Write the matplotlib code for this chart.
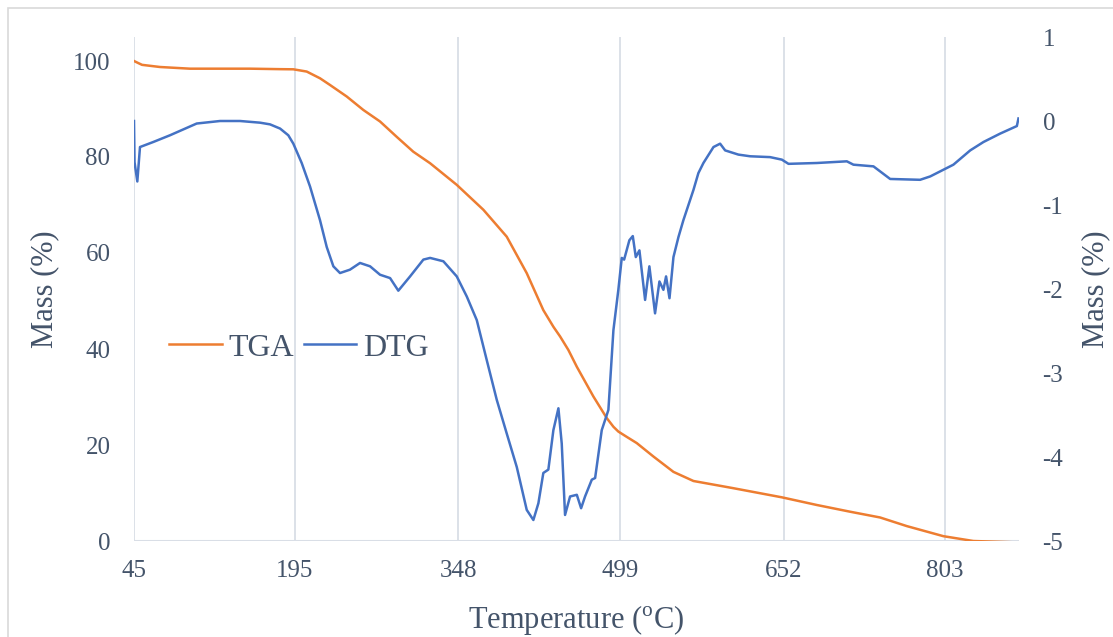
import matplotlib.pyplot as plt
from matplotlib.patches import Rectangle

plt.rcParams['font.family'] = ['Liberation Serif', 'DejaVu Serif']
plt.rcParams['mathtext.fontset'] = 'custom'
plt.rcParams['mathtext.rm'] = 'Liberation Serif'
plt.rcParams['axes.unicode_minus'] = False

# Curva TGA (masa, %)
temp_tga = [45.0, 48.7, 52.5, 69.3, 97.3, 153.4, 181.5, 193.9, 206.4, 218.8,
            228.2, 243.8, 259.3, 274.9, 290.5, 306.0, 321.7, 346.6, 371.5, 393.3,
            412.0, 427.5, 437.0, 443.2, 450.9, 458.8, 474.3, 486.8, 493.0, 497.6,
            505.4, 514.8, 530.4, 549.1, 567.8, 592.7, 605.1, 650.4, 683.1, 714.2,
            742.2, 767.2, 801.4, 829.4, 871.2]
masa_tga = [100.0, 99.6, 99.2, 98.75, 98.4, 98.4, 98.3, 98.27, 97.8, 96.4,
            95.0, 92.6, 89.8, 87.4, 84.2, 81.1, 78.7, 74.2, 69.0, 63.4,
            55.8, 48.1, 44.6, 42.6, 39.8, 36.3, 30.1, 25.6, 23.8, 22.8,
            21.7, 20.4, 17.6, 14.4, 12.5, 11.5, 11.0, 9.1, 7.5, 6.1,
            4.9, 3.1, 1.0, 0.0, -0.3]

# Curva DTG (derivada, %)
temp_dtg = [45.0, 45.5, 48.1, 50.6, 63.0, 78.6, 91.1, 103.6, 125.4, 144.1,
            162.8, 172.1, 181.5, 189.2, 193.9, 201.7, 209.5, 218.8, 225.1, 231.3,
            237.5, 246.8, 256.2, 265.6, 274.9, 284.3, 292.0, 303.0, 315.4, 321.7,
            334.1, 346.6, 356.0, 365.3, 374.7, 384.0, 393.3, 402.7, 412.0, 418.2,
            422.9, 427.5, 432.2, 436.9, 441.6, 444.7, 447.8, 452.5, 458.8, 462.8,
            466.5, 472.8, 475.9, 482.1, 488.3, 493.0, 497.6, 500.8, 503.0, 507.9,
            511.1, 513.9, 517.3, 522.6, 526.6, 531.9, 536.0, 539.7, 542.2, 545.4,
            549.1, 553.8, 558.4, 567.8, 572.4, 577.1, 586.5, 592.7, 597.4, 609.8,
            620.8, 639.4, 650.4, 656.6, 683.1, 711.1, 717.3, 736.0, 751.6, 779.6,
            789.0, 810.7, 826.4, 838.8, 854.4, 870.0, 871.5]
deriv_dtg = [0.0, -0.49, -0.72, -0.31, -0.25, -0.17, -0.10, -0.03, 0.0, 0.0,
             -0.02, -0.04, -0.09, -0.17, -0.27, -0.50, -0.78, -1.18, -1.50, -1.73,
             -1.81, -1.77, -1.69, -1.73, -1.83, -1.87, -2.02, -1.85, -1.65, -1.63,
             -1.67, -1.85, -2.09, -2.37, -2.85, -3.32, -3.72, -4.12, -4.63, -4.75,
             -4.55, -4.19, -4.15, -3.68, -3.42, -3.84, -4.69, -4.47, -4.45, -4.61,
             -4.47, -4.27, -4.25, -3.68, -3.44, -2.49, -2.01, -1.63, -1.65, -1.42,
             -1.37, -1.62, -1.54, -2.13, -1.73, -2.29, -1.91, -2.01, -1.85, -2.11,
             -1.62, -1.38, -1.18, -0.82, -0.62, -0.50, -0.31, -0.27, -0.35, -0.40,
             -0.42, -0.43, -0.46, -0.51, -0.50, -0.48, -0.52, -0.54, -0.69, -0.70,
             -0.66, -0.52, -0.35, -0.25, -0.15, -0.06, 0.03]

ticks_x = [45, 195, 348, 499, 652, 803]
ticks_izq = [0, 20, 40, 60, 80, 100]
ticks_der = [-5, -4, -3, -2, -1, 0, 1]

color_texto = '#44546A'
color_rejilla = '#D9DEE6'

fig = plt.figure(figsize=(11.13, 6.37), dpi=100)
ax = fig.add_axes([134 / 1113, 96 / 637, 885 / 1113, 504 / 637])
ax2 = ax.twinx()

# marco del gráfico
fig.patches.append(Rectangle((8 / 1113, -0.1), 1.2, (637 - 8) / 637 + 0.1,
                             transform=fig.transFigure, fill=False,
                             edgecolor='#D9D9D9', linewidth=1.2, zorder=0))

l1, = ax.plot(temp_tga, masa_tga, color='#ED7D31', linewidth=1.8, label='TGA', zorder=3)
l2, = ax2.plot(temp_dtg, deriv_dtg, color='#4472C4', linewidth=1.8, label='DTG', zorder=3)

ax.set_xlim(45, 872)
ax.set_ylim(0, 105)
ax2.set_ylim(-5, 1)

ax.set_xticks(ticks_x)
ax.set_yticks(ticks_izq)
ax2.set_yticks(ticks_der)

ax.grid(axis='x', color=color_rejilla, linewidth=1.3)
ax.set_axisbelow(True)
for a in (ax, ax2):
    for s in a.spines.values():
        s.set_visible(False)
ax.axhline(0, color=color_rejilla, linewidth=2.2, zorder=1)

ax.tick_params(axis='x', length=0, pad=14, labelsize=18, labelcolor=color_texto)
ax.tick_params(axis='y', length=0, pad=17, labelsize=18, labelcolor=color_texto)
ax2.tick_params(axis='y', length=0, pad=17, labelsize=18, labelcolor=color_texto)

ax.set_xlabel(r'Temperature ($^{\mathrm{o}}$C)', fontsize=22, color=color_texto, labelpad=15)
ax.set_ylabel('Mass (%)', fontsize=22, color=color_texto, labelpad=10)
ax2.set_ylabel('Mass (%)', fontsize=22, color=color_texto, labelpad=13)

leg = ax.legend(handles=[l1, l2], ncol=2, loc='center left', bbox_to_anchor=(0.04, 0.383),
                frameon=False, fontsize=23, handlelength=1.65, handletextpad=0.2,
                columnspacing=0.3, borderpad=0, borderaxespad=0)
for t in leg.get_texts():
    t.set_color(color_texto)

plt.savefig('out.png', dpi=100)
